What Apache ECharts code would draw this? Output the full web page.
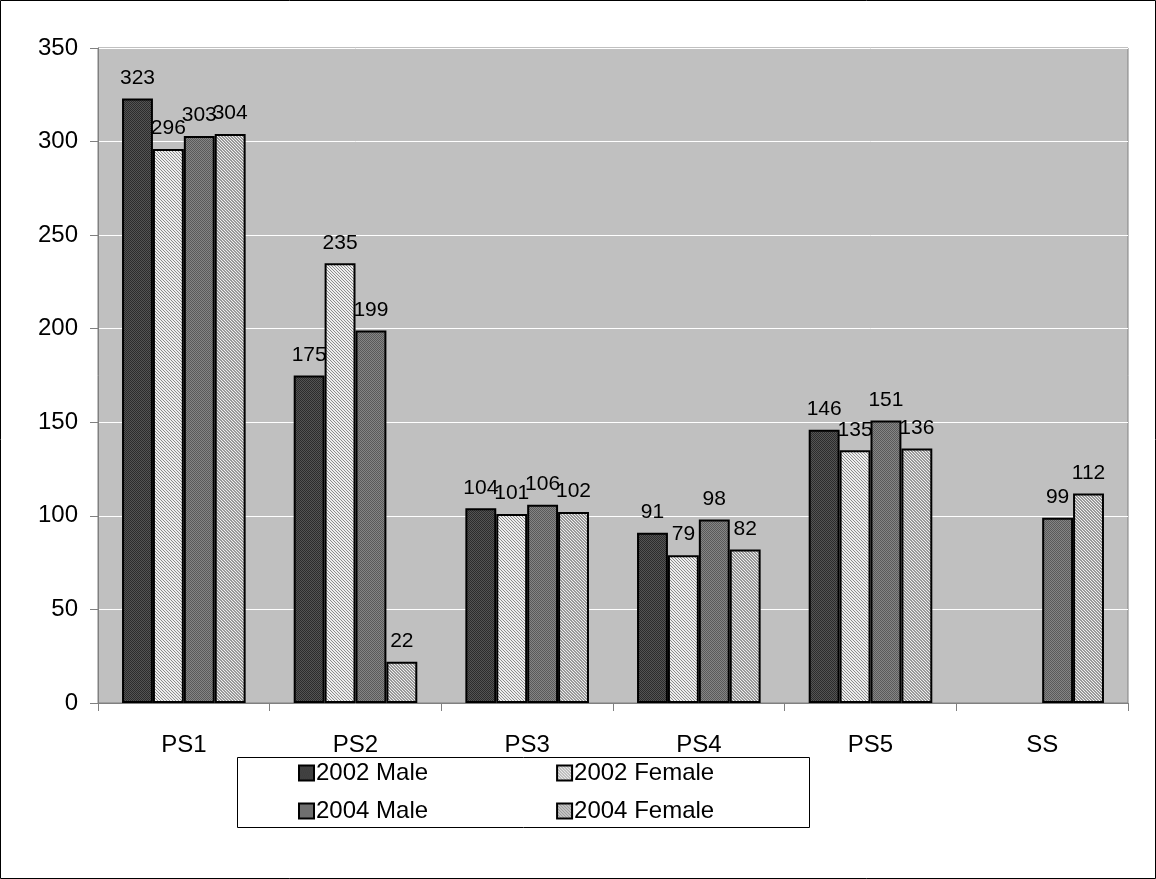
<!DOCTYPE html>
<html>
<head>
<meta charset="utf-8">
<script src="https://cdn.jsdelivr.net/npm/echarts@6/dist/echarts.min.js"></script>
<style>
html,body{margin:0;padding:0;background:#fff;}
#chart{width:1156px;height:879px;}
</style>
</head>
<body>
<div id="chart"></div>
<script>
const categories = ['PS1','PS2','PS3','PS4','PS5','SS'];
const seriesNames = ['2002 Male','2002 Female','2004 Male','2004 Female'];
const male2002 = [323,175,104,91,146,null];
const female2002 = [296,235,101,79,135,null];
const male2004 = [303,199,106,98,151,99];
const female2004 = [304,22,102,82,136,112];
const yTicks = {min:0,max:350,interval:50};

function makePattern(kind){
  const c = document.createElement('canvas');
  c.width = 6; c.height = 6;
  const ctx = c.getContext('2d');
  for(let y=0;y<6;y++){
    for(let x=0;x<6;x++){
      let col;
      if(kind===0){ col = ((x+y)%2===0)?'#2c2c2c':'#545454'; }
      else if(kind===1){ col = ((x-y+12)%3===0)?'#8c8c8c':'#eeeeee'; }
      else if(kind===2){ col = ((x+y)%2===0)?'#5a5a5a':'#858585'; }
      else { col = ((x-y+12)%3===0)?'#f0f0f0':'#999999'; }
      ctx.fillStyle = col;
      ctx.fillRect(x,y,1,1);
    }
  }
  return {image:c, repeat:'repeat'};
}
const fills = [makePattern(0),makePattern(1),makePattern(2),makePattern(3)];
const dataArrays = [male2002,female2002,male2004,female2004];

const chart = echarts.init(document.getElementById('chart'));
const font = 'Liberation Sans, Arial, sans-serif';
const legendBase = {
  orient:'horizontal',
  itemWidth:15,itemHeight:15,itemGap:128,
  icon:'rect',
  textStyle:{fontFamily:font,fontSize:24,color:'#000',padding:[0,0,0,-3]},
  padding:0
};
chart.setOption({
  animation:false,
  backgroundColor:'#ffffff',
  graphic:[
    {type:'rect',shape:{x:0.5,y:0.5,width:1155,height:878},style:{fill:'none',stroke:'#000',lineWidth:1},silent:true,z:-1},
    {type:'rect',shape:{x:237.5,y:757.5,width:572,height:70},style:{fill:'#fff',stroke:'#000',lineWidth:1},silent:true,z:-1}
  ],
  grid:{left:98,right:28,top:48,bottom:176,show:true,backgroundColor:'#c0c0c0',borderColor:'#808080',borderWidth:1},
  legend:[
    Object.assign({data:seriesNames.slice(0,2),left:298,top:761},legendBase),
    Object.assign({data:seriesNames.slice(2,4),left:298,top:799},legendBase)
  ],
  xAxis:{
    type:'category',data:categories,
    axisLine:{lineStyle:{color:'#808080',width:1}},
    axisTick:{show:true,length:8,alignWithLabel:false,lineStyle:{color:'#808080'}},
    axisLabel:{fontFamily:font,fontSize:24,color:'#000',margin:30}
  },
  yAxis:{
    type:'value',min:yTicks.min,max:yTicks.max,interval:yTicks.interval,
    axisLine:{show:true,lineStyle:{color:'#808080',width:1}},
    axisTick:{show:true,length:8,lineStyle:{color:'#808080'}},
    splitLine:{lineStyle:{color:'#ffffff',width:1}},
    axisLabel:{fontFamily:font,fontSize:24,color:'#000',margin:20}
  },
  series:seriesNames.map((n,i)=>({
    name:n,type:'bar',data:dataArrays[i],
    barGap:'0%',barCategoryGap:'28%',
    itemStyle:{color:fills[i],borderColor:'#000',borderWidth:2},
    label:{show:true,position:'top',distance:10,fontFamily:font,fontSize:21,color:'#000'}
  }))
});
</script>
</body>
</html>
